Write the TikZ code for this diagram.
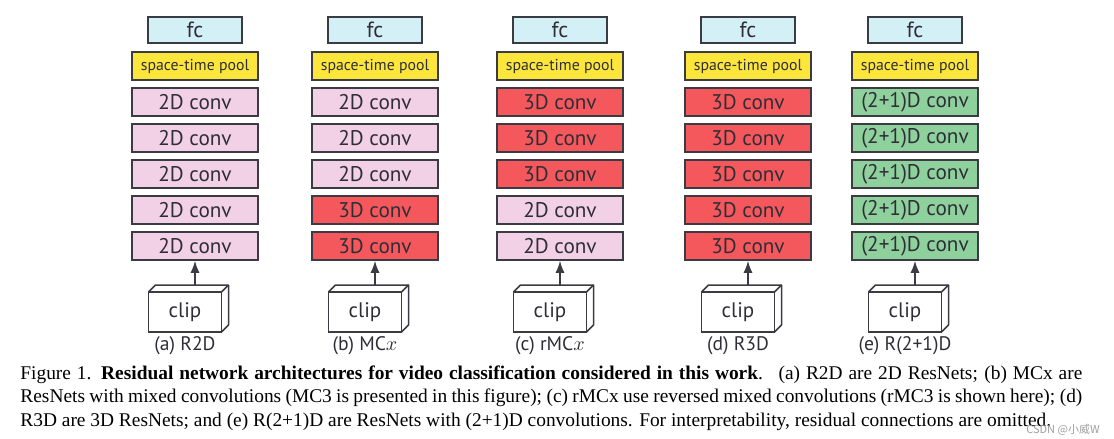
\documentclass[tikz,border=0pt]{standalone}
\usepackage{fontspec}
\setmainfont{Liberation Serif}
\newfontfamily\diagfont{PT Sans}
\newfontfamily\cjkfont{Noto Sans CJK SC}
\usepackage{xcolor}
\usetikzlibrary{shapes.geometric, arrows.meta}
\definecolor{fccol}{HTML}{D3F0F6}
\definecolor{poolcol}{HTML}{FDE63C}
\definecolor{twocol}{HTML}{F2D1E6}
\definecolor{threecol}{HTML}{F5585C}
\definecolor{mixcol}{HTML}{8FD19D}
\definecolor{edgecol}{HTML}{3B3B43}
\definecolor{txtcol}{HTML}{2E2E36}
\tikzstyle{layerbox} = [rectangle, minimum width=63pt, minimum height=14pt, inner sep=0pt, text centered, draw=edgecol, line width=0.75pt, text=txtcol, font=\diagfont\fontsize{10.6}{11}\selectfont]
\tikzstyle{fcbox} = [layerbox, minimum width=47pt, minimum height=13pt, fill=fccol, font=\diagfont\fontsize{11}{12}\selectfont]
\tikzstyle{poolbox} = [layerbox, fill=poolcol, font=\diagfont\fontsize{7.9}{8}\selectfont]
\tikzstyle{convtwo} = [layerbox, fill=twocol, node contents={2D conv}]
\tikzstyle{convthree} = [layerbox, fill=threecol, node contents={3D conv}]
\tikzstyle{convmix} = [layerbox, fill=mixcol, node contents={(2+1)D conv}]
\tikzstyle{clipbox} = [rectangle, minimum width=36.5pt, minimum height=20pt, outer sep=0pt, draw=edgecol, line width=0.75pt, fill=white, text=txtcol, font=\diagfont\fontsize{10.5}{11}\selectfont]
\tikzstyle{cube} = [draw=edgecol, line width=0.75pt, line join=round]
\tikzstyle{tagtext} = [text=txtcol, inner sep=0pt, font=\diagfont\fontsize{9.8}{10}\selectfont]
\tikzstyle{arrow} = [line width=0.75pt, draw=edgecol, -{Latex[length=6pt,width=4.5pt]}]

\begin{document}
\begin{tikzpicture}[x=0.5pt, y=-0.5pt, node distance=18pt]
   \useasboundingbox (0,0) rectangle (1114,439);
   % one column per network
   \foreach \i/\cx/\ta/\tb/\tc/\td/\te/\name in {
      a/195/convtwo/convtwo/convtwo/convtwo/convtwo/{(a) R2D},
      b/375/convtwo/convtwo/convtwo/convthree/convthree/{(b) MC$x$},
      c/560/convthree/convthree/convthree/convtwo/convtwo/{(c) rMC$x$},
      d/748/convthree/convthree/convthree/convthree/convthree/{(d) R3D},
      e/915/convmix/convmix/convmix/convmix/convmix/{(e) R(2+1)D}}{
      \node (fc\i) [fcbox] at (\cx,30) {fc};
      \node (pool\i) [poolbox, below of=fc\i] {space-time pool};
      \node (ca\i) [\ta, below of=pool\i];
      \node (cb\i) [\tb, below of=ca\i];
      \node (cc\i) [\tc, below of=cb\i];
      \node (cd\i) [\td, below of=cc\i];
      \node (ce\i) [\te, below of=cd\i];
      \node (clip\i) [clipbox] at (\cx-10,312) {clip};
      \draw [cube] (clip\i.north west) -- ++(7,-7) -- ++(73,0) -- ++(0,40) -- (clip\i.south east);
      \draw [cube] (clip\i.north east) -- ++(7,-7);
      \node (tag\i) [tagtext, below of=clip\i, node distance=17pt] {\name};
      \coordinate (top\i) at (\cx,285);
      \draw [arrow] (top\i) -- (ce\i);
   }
   % caption
   \node (cap) [anchor=north west, text width=531pt, align=justify, inner sep=0pt, font=\fontsize{9.7}{11.8}\selectfont] at (20,365) {Figure 1. \textbf{Residual network architectures for video classification considered in this work}. \ (a) R2D are 2D ResNets; (b) MCx are\linebreak ResNets with mixed convolutions (MC3 is presented in this figure); (c) rMCx use reversed mixed convolutions (rMC3 is shown here); (d)\linebreak R3D are 3D ResNets; and (e) R(2+1)D are ResNets with (2+1)D convolutions. For interpretability, residual connections are omitted.};
   \node (mark) [text=gray!75, inner sep=0pt, font=\cjkfont\fontsize{5.5}{6}\selectfont] at (1063,430) {CSDN @小威W};
\end{tikzpicture}
\end{document}
